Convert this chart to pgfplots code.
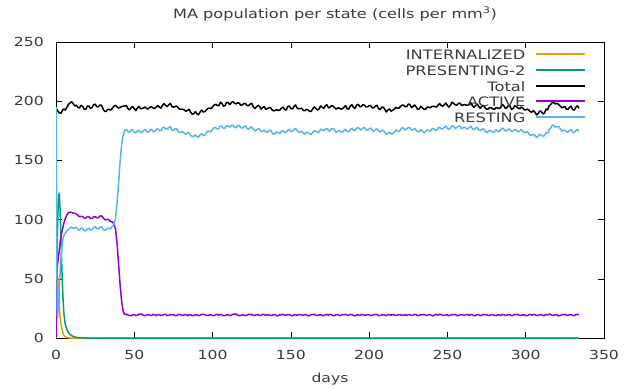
\documentclass[border=0pt]{standalone}
\usepackage{fontspec}
\setmainfont{DejaVu Sans}[FakeStretch=1.25]
\usepackage{pgfplots}
\usepackage{pgfplotstable}
\pgfplotsset{compat=1.18}
\definecolor{cint}{HTML}{E69F00}
\definecolor{cpre}{HTML}{009E73}
\definecolor{cact}{HTML}{9400D3}
\definecolor{cres}{HTML}{56B4E9}
\definecolor{txt}{HTML}{3A3A3A}

\pgfplotstableread{
day I P T A R
0 0 0 196 0 195
0.25 20 20 194 30 150
0.5 38 50 193 50 80
0.75 47 75 192.5 58 25
1 52 95 192 62 17
1.5 45 117 191 68 27
2 32 122.5 190.5 73 41
2.5 20 112 190 79 52
3 13.5 91 189.8 84 63
3.5 10 69 190.5 88 72
4 6.5 49 192 91 80
4.5 4 33 193 94 84
5 2.5 21 193.5 97 86.5
6 1 11 192.5 101 88.5
7 0.4 7 195 104 90.5
8 0.1 4.5 197.5 105.8 92
9 0 3 198.5 106.3 93
10 0 2 199.5 106 93.8
11 0 1.3 198 105.5 92.6
12 0 0.8 196.0 105.2 93.0
13 0 0.6 196.6 105.0 93.6
14 0 0.4 194.8 103.5 91.5
15 0 0.3 194.3 102.4 91.0
16 0 0.2 196.5 102.8 92.8
17 0 0.15 195.8 102.6 92.5
18 0 0.1 193.2 101.4 90.6
19 0 0.05 193.1 101.2 90.5
20 0 0 195.8 102.6 92.0
21 0 0 195.9 102.5 92.6
22 0 0 194.0 101.0 91.2
23 0 0 194.7 101.0 91.5
24 0 0 197.0 102.2 93.1
25 0 0 197.5 102.6 94.2
26 0 0 195.5 101.5 92.4
27 0 0 195.1 101.6 92.0
28 0 0 196.8 103.0 93.5
29 0 0 196.6 103.1 94.0
30 0 0 193.5 101.8 92.0
31 0 0 191.5 100.2 90.7
32 0 0 191.4 99.8 91.6
33 0 0 193.1 100.3 92.9
34 0 0 193.0 99.5 92.6
35 0 0 192.5 98.2 92.2
36 0 0 194.0 98.0 94.5
37 0 0 195.8 96.5 96
38 0 0 196.5 92 101
39 0 0 195.2 80 114
40 0 0 194.2 62 131
41 0 0 194.8 44 150
42 0 0 195.5 30 164
43 0 0 195.8 22 172
44 0 0 196.0 19.8 175.5
45 0 0 196.3 20.1 176.2
46 0 0 193.6 19.4 174.2
47 0 0 192.7 18.8 173.9
48 0 0 194.7 18.9 175.8
49 0 0 195.4 19.7 175.7
50 0 0 193.7 19.8 173.9
51 0 0 192.0 18.9 173.1
52 0 0 194.3 19.2 175.1
53 0 0 195.5 20.1 175.4
54 0 0 193.7 20.1 173.6
55 0 0 193.9 20.1 173.8
56 0 0 194.4 19.0 175.4
57 0 0 195.1 18.9 176.2
58 0 0 193.6 19.6 174.0
59 0 0 193.6 19.8 173.8
60 0 0 194.9 19.3 175.6
61 0 0 195.3 19.0 176.3
62 0 0 194.3 19.9 174.4
63 0 0 194.0 19.8 174.2
64 0 0 195.0 18.8 176.2
65 0 0 196.4 19.8 176.6
66 0 0 195.0 19.7 175.3
67 0 0 194.1 19.1 175.0
68 0 0 196.6 19.2 177.4
69 0 0 197.9 19.9 178.0
70 0 0 196.6 20.0 176.6
71 0 0 195.5 19.0 176.5
72 0 0 196.9 19.1 177.8
73 0 0 198.2 19.8 178.4
74 0 0 195.5 19.6 175.9
75 0 0 195.0 19.8 175.2
76 0 0 195.4 18.9 176.5
77 0 0 195.9 19.0 176.9
78 0 0 194.5 19.8 174.7
79 0 0 193.2 19.9 173.3
80 0 0 193.3 19.3 174.0
81 0 0 193.1 18.9 174.2
82 0 0 192.5 19.7 172.8
83 0 0 191.5 19.7 171.8
84 0 0 192.3 18.8 173.5
85 0 0 193.1 19.7 173.4
86 0 0 190.7 19.5 171.2
87 0 0 189.0 18.9 170.1
88 0 0 189.4 19.0 170.4
89 0 0 191.2 19.6 171.6
90 0 0 189.4 19.6 169.8
91 0 0 188.5 18.8 169.7
92 0 0 190.8 19.2 171.6
93 0 0 192.6 20.0 172.6
94 0 0 190.9 19.9 171.0
95 0 0 191.1 20.0 171.1
96 0 0 192.5 19.1 173.4
97 0 0 193.8 19.0 174.8
98 0 0 194.2 19.6 174.6
99 0 0 193.7 19.6 174.1
100 0 0 195.3 19.0 176.3
101 0 0 196.7 18.8 177.9
102 0 0 197.3 19.8 177.5
103 0 0 196.5 20.0 176.5
104 0 0 196.1 19.3 176.8
105 0 0 199.1 19.9 179.2
106 0 0 198.1 19.5 178.6
107 0 0 195.8 18.8 177.0
108 0 0 196.3 18.9 177.4
109 0 0 199.1 19.6 179.5
110 0 0 198.6 19.7 178.9
111 0 0 197.1 18.9 178.2
112 0 0 198.8 19.2 179.6
113 0 0 199.8 20.1 179.7
114 0 0 198.3 20.1 178.2
115 0 0 197.7 20.3 177.4
116 0 0 198.7 19.4 179.3
117 0 0 198.3 18.8 179.5
118 0 0 196.6 19.0 177.6
119 0 0 196.9 19.6 177.3
120 0 0 198.0 19.6 178.4
121 0 0 198.1 18.9 179.2
122 0 0 196.2 19.3 176.9
123 0 0 196.3 20.0 176.3
124 0 0 197.5 19.8 177.7
125 0 0 198.3 20.0 178.3
126 0 0 195.3 19.1 176.2
127 0 0 193.8 19.0 174.8
128 0 0 195.1 19.6 175.5
129 0 0 196.5 19.7 176.8
130 0 0 195.6 19.2 176.4
131 0 0 193.2 19.0 174.2
132 0 0 194.7 19.9 174.8
133 0 0 195.4 19.9 175.5
134 0 0 193.1 19.0 174.1
135 0 0 193.7 19.8 173.9
136 0 0 194.5 19.5 175.0
137 0 0 194.7 19.0 175.7
138 0 0 192.6 19.2 173.4
139 0 0 191.8 19.8 172.0
140 0 0 192.3 19.7 172.6
141 0 0 192.9 18.7 174.2
142 0 0 192.1 18.9 173.2
143 0 0 192.5 19.7 172.8
144 0 0 194.1 19.6 174.5
145 0 0 195.0 20.0 175.0
146 0 0 193.1 19.3 173.8
147 0 0 192.5 19.2 173.3
148 0 0 195.4 19.8 175.6
149 0 0 196.0 19.8 176.2
150 0 0 193.8 19.1 174.7
151 0 0 193.4 18.7 174.7
152 0 0 195.5 19.5 176.0
153 0 0 196.8 19.7 177.1
154 0 0 194.2 19.0 175.2
155 0 0 193.6 19.9 173.7
156 0 0 193.8 19.7 174.1
157 0 0 193.9 19.1 174.8
158 0 0 192.2 19.3 172.9
159 0 0 192.0 19.8 172.2
160 0 0 193.2 19.6 173.6
161 0 0 192.5 18.7 173.8
162 0 0 191.4 19.0 172.4
163 0 0 191.5 19.8 171.7
164 0 0 193.6 19.8 173.8
165 0 0 195.2 20.0 175.2
166 0 0 193.8 19.2 174.6
167 0 0 192.6 19.0 173.6
168 0 0 193.4 19.5 173.9
169 0 0 196.0 19.6 176.4
170 0 0 194.9 19.1 175.8
171 0 0 193.9 18.8 175.1
172 0 0 196.1 19.7 176.4
173 0 0 197.0 19.9 177.1
174 0 0 194.4 19.3 175.1
175 0 0 194.8 20.0 174.8
176 0 0 196.3 19.6 176.7
177 0 0 195.8 18.9 176.9
178 0 0 194.4 19.0 175.4
179 0 0 193.3 19.7 173.6
180 0 0 194.3 19.8 174.5
181 0 0 194.2 18.9 175.3
182 0 0 193.2 19.2 174.0
183 0 0 193.8 19.8 174.0
184 0 0 194.9 19.6 175.3
185 0 0 196.3 20.0 176.3
186 0 0 193.5 19.3 174.2
187 0 0 193.4 19.2 174.2
188 0 0 196.0 19.9 176.1
189 0 0 197.0 19.8 177.2
190 0 0 194.7 19.1 175.6
191 0 0 194.0 18.7 175.3
192 0 0 196.7 19.5 177.2
193 0 0 197.4 19.7 177.7
194 0 0 195.5 19.0 176.5
195 0 0 195.5 19.9 175.6
196 0 0 197.1 19.7 177.4
197 0 0 196.7 19.1 177.6
198 0 0 195.1 19.3 175.8
199 0 0 195.3 19.8 175.5
200 0 0 196.2 19.6 176.6
201 0 0 196.2 18.8 177.4
202 0 0 194.4 19.2 175.2
203 0 0 194.5 19.9 174.6
204 0 0 195.8 19.8 176.0
205 0 0 196.6 19.9 176.7
206 0 0 193.7 19.0 174.7
207 0 0 192.9 18.9 174.0
208 0 0 194.9 19.5 175.4
209 0 0 195.1 19.7 175.4
210 0 0 193.1 19.3 173.8
211 0 0 190.9 18.9 172.0
212 0 0 192.6 19.7 172.9
213 0 0 193.5 19.8 173.7
214 0 0 191.6 19.1 172.5
215 0 0 192.3 19.9 172.4
216 0 0 193.2 19.6 173.6
217 0 0 194.8 19.0 175.8
218 0 0 194.1 19.2 174.9
219 0 0 194.1 19.8 174.3
220 0 0 195.5 19.8 175.7
221 0 0 196.7 19.0 177.7
222 0 0 196.5 19.4 177.1
223 0 0 195.3 19.6 175.7
224 0 0 195.4 19.0 176.4
225 0 0 197.6 19.8 177.8
226 0 0 197.2 19.6 177.6
227 0 0 194.6 19.1 175.5
228 0 0 195.5 19.3 176.2
229 0 0 196.8 19.9 176.9
230 0 0 195.3 19.8 175.5
231 0 0 193.1 18.9 174.2
232 0 0 193.4 19.1 174.3
233 0 0 195.8 19.7 176.1
234 0 0 194.4 19.5 174.9
235 0 0 193.3 19.9 173.4
236 0 0 193.0 19.2 173.8
237 0 0 194.9 19.1 175.8
238 0 0 194.9 19.7 175.2
239 0 0 194.5 19.7 174.8
240 0 0 195.5 19.0 176.5
241 0 0 195.7 18.7 177.0
242 0 0 195.4 19.6 175.8
243 0 0 195.1 19.9 175.2
244 0 0 196.6 19.3 177.3
245 0 0 198.1 20.1 178.0
246 0 0 196.4 19.8 176.6
247 0 0 195.7 19.1 176.6
248 0 0 197.0 19.1 177.9
249 0 0 198.5 19.6 178.9
250 0 0 196.3 19.5 176.8
251 0 0 195.0 18.8 176.2
252 0 0 196.8 19.2 177.6
253 0 0 199.2 19.9 179.3
254 0 0 198.1 19.7 178.4
255 0 0 196.9 19.9 177.0
256 0 0 196.7 19.0 177.7
257 0 0 198.0 18.9 179.1
258 0 0 198.5 19.6 178.9
259 0 0 196.6 19.8 176.8
260 0 0 196.8 19.3 177.5
261 0 0 197.2 19.0 178.2
262 0 0 196.6 19.8 176.8
263 0 0 196.6 19.9 176.7
264 0 0 197.1 19.2 177.9
265 0 0 198.7 19.9 178.8
266 0 0 196.1 19.5 176.6
267 0 0 194.9 18.9 176.0
268 0 0 196.3 19.0 177.3
269 0 0 197.6 19.7 177.9
270 0 0 195.6 19.7 175.9
271 0 0 194.0 18.9 175.1
272 0 0 195.7 19.3 176.4
273 0 0 196.5 19.9 176.6
274 0 0 194.7 19.6 175.1
275 0 0 193.2 19.9 173.3
276 0 0 193.3 19.1 174.2
277 0 0 194.6 19.1 175.5
278 0 0 194.6 19.8 174.8
279 0 0 193.5 19.8 173.7
280 0 0 193.1 19.2 173.9
281 0 0 194.6 18.8 175.8
282 0 0 194.2 19.5 174.7
283 0 0 193.9 19.7 174.2
284 0 0 194.6 19.0 175.6
285 0 0 197.3 19.9 177.4
286 0 0 196.2 19.7 176.5
287 0 0 193.9 19.1 174.8
288 0 0 194.6 19.3 175.3
289 0 0 196.4 19.8 176.6
290 0 0 195.8 19.6 176.2
291 0 0 193.0 18.8 174.2
292 0 0 194.0 19.1 174.9
293 0 0 196.2 19.9 176.3
294 0 0 195.4 19.8 175.6
295 0 0 194.3 20.0 174.3
296 0 0 193.5 19.2 174.3
297 0 0 195.1 19.0 176.1
298 0 0 194.4 19.5 174.9
299 0 0 192.9 19.6 173.3
300 0 0 192.6 19.0 173.6
301 0 0 193.3 18.8 174.5
302 0 0 192.5 19.7 172.8
303 0 0 191.0 19.9 171.1
304 0 0 190.8 19.3 171.5
305 0 0 192.0 20.0 172.0
306 0 0 190.5 19.6 170.9
307 0 0 188.4 19.0 169.4
308 0 0 189.7 19.1 170.6
309 0 0 191.8 19.8 172.0
310 0 0 191.2 19.8 171.4
311 0 0 189.3 18.9 170.4
312 0 0 190.0 19.2 170.8
313 0 0 193.3 19.8 173.5
314 0 0 192.7 19.5 173.2
315 0 0 196.1 20.2 175.9
316 0 0 197.3 19.9 177.4
317 0 0 199.0 19.2 179.8
318 0 0 198.7 19.2 179.5
319 0 0 197.7 19.7 178.0
320 0 0 198.2 19.6 178.6
321 0 0 197.3 18.7 178.6
322 0 0 195.9 19.0 176.9
323 0 0 194.5 19.8 174.7
324 0 0 194.9 19.7 175.2
325 0 0 195.6 20.0 175.6
326 0 0 193.3 19.3 174.0
327 0 0 193.1 19.1 174.0
328 0 0 194.9 19.6 175.3
329 0 0 195.8 19.7 176.1
330 0 0 192.9 19.1 173.8
331 0 0 192.4 18.9 173.5
332 0 0 194.9 19.8 175.1
333 0 0 196.2 20.0 176.2
334 0 0 194.0 19.4 174.6
}\macdata

\begin{document}
\begin{tikzpicture}[font=\fontsize{12.5bp}{15bp}\selectfont]
\useasboundingbox (-56bp,-51bp) rectangle (587bp,338bp);
\begin{axis}[
  at={(0,0)}, anchor=south west,
  scale only axis, width=548bp, height=296bp,
  xmin=0, xmax=350, ymin=0, ymax=250,
  xtick={0,50,...,350}, ytick={0,50,...,250},
  tick align=inside, major tick length=6bp,
  tick style={black, line width=0.6bp},
  axis line style={black, line width=0.8bp},
  /pgf/number format/assume math mode=true,
  tick label style={font=\fontsize{12.5bp}{15bp}\selectfont, text=txt},
  xticklabel style={anchor=base, yshift=-21bp, inner sep=0pt},
  yticklabel style={anchor=east, xshift=-12bp, inner sep=0pt},
  title={MA population per state (cells per mm\textsuperscript{3})},
  title style={at={(axis description cs:0.5,1)}, anchor=base, yshift=18bp, xshift=5bp, inner sep=0pt, text=txt, font=\fontsize{12.9bp}{15bp}\selectfont},
  xlabel={days},
  xlabel style={at={(axis description cs:0.5,0)}, anchor=base, yshift=-44bp, inner sep=0pt, text=txt, font=\fontsize{12.5bp}{15bp}\selectfont},
  legend plot pos=right,
  legend cell align=right,
  legend image code/.code={\path (0bp,-3bp) (0bp,6bp); \draw[#1, line width=1.8bp] (10bp,2.6bp) -- (59bp,2.6bp);},
  legend style={at={(rel axis cs:1,1)}, anchor=north east, xshift=-18bp, yshift=-8bp,
    draw=none, fill=none, inner sep=0pt, outer sep=0pt,
    font=\fontsize{13bp}{15bp}\selectfont, text=txt,
    nodes={inner sep=0pt, text height=9bp, text depth=3bp},
    row sep=3bp, column sep=0pt},
]
\addplot[cint, line width=1.5bp, line join=round] table[x=day, y=I] {\macdata};
\addlegendentry{INTERNALIZED}
\addplot[cpre, line width=1.5bp, line join=round] table[x=day, y=P] {\macdata};
\addlegendentry{PRESENTING-2}
\addplot[black, line width=1.5bp, line join=round] table[x=day, y=T] {\macdata};
\addlegendentry{Total}
\addplot[cact, line width=1.5bp, line join=round] table[x=day, y=A] {\macdata};
\addlegendentry{ACTIVE}
\addplot[cres, line width=1.5bp, line join=round] table[x=day, y=R] {\macdata};
\addlegendentry{RESTING}
\end{axis}
\end{tikzpicture}
\end{document}
